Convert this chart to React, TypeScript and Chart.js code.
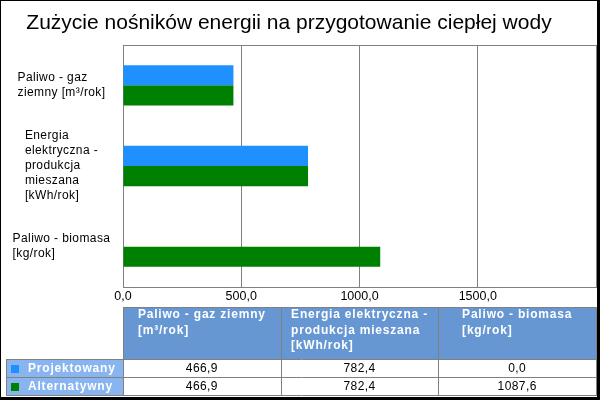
import React, { useEffect, useRef } from "react";
import { Chart, registerables } from "chart.js";

Chart.register(...registerables);

const titleText = "Zużycie nośników energii na przygotowanie ciepłej wody";
const categoryLabels: string[][] = [
  ["Paliwo - gaz", "ziemny [m³/rok]"],
  ["Energia", "elektryczna -", "produkcja", "mieszana", "[kWh/rok]"],
  ["Paliwo - biomasa", "[kg/rok]"],
];
const headerLabels: string[][] = [
  ["Paliwo - gaz ziemny", "[m³/rok]"],
  ["Energia elektryczna -", "produkcja mieszana", "[kWh/rok]"],
  ["Paliwo - biomasa", "[kg/rok]"],
];
const seriesNames = ["Projektowany", "Alternatywny"];
const seriesColors = ["#1E90FF", "#008000"];
const projektowany = [466.9, 782.4, 0.0];
const alternatywny = [466.9, 782.4, 1087.6];
const xMin = 0;
const xMax = 2000;
const xStep = 500;

const FONT = "'Liberation Sans', Arial, sans-serif";
const GRAY = "#808080";
const HEADER_BG = "#6697D2";
const LEGEND_BG = "#88B4F0";

const fmt = (v: number) => v.toFixed(1).replace(".", ",");

const customPlugin = {
  id: "customFrame",
  beforeDraw(chart: any) {
    const ctx = chart.ctx;
    ctx.save();
    ctx.fillStyle = "#000";
    ctx.fillRect(0, 0, chart.width, chart.height);
    ctx.fillStyle = "#fff";
    ctx.fillRect(1, 1, chart.width - 4, chart.height - 4);
    // title
    ctx.font = `21px ${FONT}`;
    ctx.fillStyle = "#000";
    ctx.textAlign = "center";
    ctx.textBaseline = "alphabetic";
    ctx.fillText(titleText, 289, 28.5);
    ctx.restore();
  },
  beforeDatasetsDraw(chart: any) {
    const ctx = chart.ctx;
    const { left, right, top, bottom } = chart.chartArea;
    ctx.save();
    ctx.strokeStyle = GRAY;
    ctx.lineWidth = 1;
    ctx.strokeRect(Math.round(left) + 0.5, Math.round(top) + 0.5, Math.round(right) - Math.round(left), Math.round(bottom) - Math.round(top));
    ctx.restore();
  },
  afterDraw(chart: any) {
    const ctx = chart.ctx;
    const { left, right, bottom } = chart.chartArea;
    const yScale = chart.scales.y;
    ctx.save();

    // Y category labels: block centered, lines left aligned
    ctx.font = `12px ${FONT}`;
    (ctx as any).letterSpacing = "0.4px";
    ctx.fillStyle = "#000";
    ctx.textBaseline = "middle";
    ctx.textAlign = "left";
    const lh = 15;
    const cx = left / 2;
    categoryLabels.forEach((lines, i) => {
      const cy = yScale.getPixelForValue(i);
      const w = Math.max(...lines.map((l) => ctx.measureText(l).width));
      const x0 = cx - w / 2;
      const y0 = cy - ((lines.length - 1) * lh) / 2;
      lines.forEach((l, j) => ctx.fillText(l, x0, y0 + j * lh));
    });

    // Table
    const L = Math.round(left);
    const R = Math.round(right);
    const tTop = Math.round(bottom) + 20;
    const headerH = 52;
    const rowH = 18;
    const hBot = tTop + headerH;
    const r1 = hBot + rowH;
    const r2 = r1 + rowH;
    const legL = 6;
    const colW = (R - L) / 3;

    ctx.fillStyle = HEADER_BG;
    ctx.fillRect(L, tTop, R - L, headerH);
    ctx.fillStyle = LEGEND_BG;
    ctx.fillRect(legL, hBot, L - legL, rowH * 2);
    ctx.fillStyle = "#fff";
    ctx.fillRect(L, hBot, R - L, rowH * 2);

    ctx.strokeStyle = GRAY;
    ctx.lineWidth = 1;
    const hline = (x1: number, x2: number, y: number) => {
      ctx.beginPath();
      ctx.moveTo(x1, y + 0.5);
      ctx.lineTo(x2 + 1, y + 0.5);
      ctx.stroke();
    };
    const vline = (x: number, y1: number, y2: number) => {
      ctx.beginPath();
      ctx.moveTo(x + 0.5, y1);
      ctx.lineTo(x + 0.5, y2 + 1);
      ctx.stroke();
    };
    hline(L, R, tTop);
    hline(legL, R, hBot);
    hline(legL, R, r1);
    hline(legL, R, r2);
    vline(legL, hBot, r2);
    for (let i = 0; i <= 3; i++) {
      const x = Math.round(L + i * colW);
      vline(x, tTop, r2);
    }

    // Header texts
    ctx.font = `bold 12px ${FONT}`;
    (ctx as any).letterSpacing = "0.8px";
    ctx.fillStyle = "#fff";
    ctx.textAlign = "left";
    ctx.textBaseline = "middle";
    const hlh = 15.5;
    headerLabels.forEach((lines, i) => {
      const ccx = L + colW * (i + 0.5);
      const w = Math.max(...lines.map((l) => ctx.measureText(l).width));
      const x0 = ccx - w / 2;
      lines.forEach((l, j) => ctx.fillText(l, x0, tTop + 8 + j * hlh));
    });

    // Legend cells
    const rowsY = [hBot, r1];
    seriesNames.forEach((name, i) => {
      const cy = rowsY[i] + rowH / 2 + 0.5;
      ctx.fillStyle = seriesColors[i];
      ctx.fillRect(11, Math.round(cy - 4), 8, 8);
      ctx.fillStyle = "#fff";
      ctx.fillText(name, 28, cy);
    });

    // Values
    (ctx as any).letterSpacing = "0.4px";
    ctx.font = `12px ${FONT}`;
    ctx.fillStyle = "#000";
    ctx.textAlign = "center";
    const seriesData = [projektowany, alternatywny];
    seriesData.forEach((arr, i) => {
      const cy = rowsY[i] + rowH / 2 + 0.5;
      arr.forEach((v, j) => {
        ctx.fillText(fmt(v), L + colW * (j + 0.5), cy);
      });
    });

    ctx.restore();
  },
};

export default function App() {
  const ref = useRef<HTMLCanvasElement | null>(null);
  useEffect(() => {
    if (!ref.current) return;
    const chart = new Chart(ref.current, {
      type: "bar",
      data: {
        labels: categoryLabels.map((l) => l.join(" ")),
        datasets: [
          { label: seriesNames[0], data: projektowany, backgroundColor: seriesColors[0], borderWidth: 0 },
          { label: seriesNames[1], data: alternatywny, backgroundColor: seriesColors[1], borderWidth: 0 },
        ],
      },
      options: {
        indexAxis: "y",
        responsive: false,
        animation: false,
        datasets: { bar: { categoryPercentage: 0.5, barPercentage: 1.0 } },
        layout: { padding: { left: 123, right: 4, top: 45, bottom: 94 } },
        scales: {
          x: {
            min: xMin,
            max: xMax,
            grid: { color: GRAY, lineWidth: 1, drawTicks: false },
            border: { color: GRAY },
            ticks: {
              stepSize: xStep,
              padding: 2,
              color: "#000",
              font: { family: FONT, size: 12.5, lineHeight: 1.2 },
              maxRotation: 0,
              callback: (v: any) => (Number(v) >= xMax ? "" : fmt(Number(v))),
            },
          },
          y: { display: false, offset: true },
        },
        plugins: {
          legend: { display: false },
          tooltip: { enabled: false },
          title: { display: false },
        },
      },
      plugins: [customPlugin],
    });
    return () => chart.destroy();
  }, []);
  return (
    <div style={{ position: "fixed", left: 0, top: 0, width: 600, height: 400 }}>
      <canvas ref={ref} width={600} height={400} style={{ width: 600, height: 400, display: "block" }} />
    </div>
  );
}
